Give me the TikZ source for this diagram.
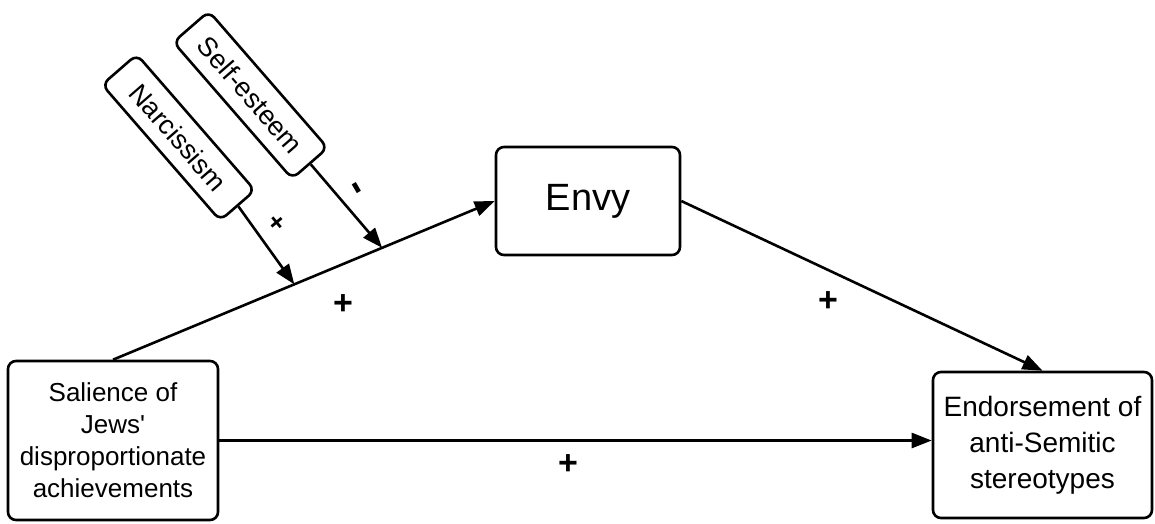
\documentclass[tikz,border=0pt]{standalone}
\usepackage{fontspec}
\setmainfont{Liberation Sans}
\newfontfamily\plainlib{Liberation Sans}
\usetikzlibrary{arrows.meta,calc}
\begin{document}
\begin{tikzpicture}[x=1pt,y=-1pt,
  box/.style={draw,line width=2.6pt,rounded corners=8pt,align=center,inner sep=2pt},
  arr/.style={line width=2.6pt,-{Triangle[length=20pt,width=15pt]}},
  sign/.style={font=\fontsize{34}{34}\selectfont\bfseries,inner sep=0pt}]
\useasboundingbox (0,0) rectangle (1155,523);
\node[box,minimum width=210pt,minimum height=159pt,font=\fontsize{26}{32}\selectfont] (s) at (113,440.5)
  {Salience of\\{\plainlib Jews'}\\disproportionate\\achievements};
\node[box,minimum width=184pt,minimum height=108pt,font=\fontsize{38}{46}\selectfont] (e) at (588,201) {Envy};
\node[box,minimum width=219pt,minimum height=146pt,font=\fontsize{28}{36}\selectfont] (d) at (1042.5,445)
  {Endorsement of\\anti-Semitic\\stereotypes};
\node[box,rotate=-49,minimum width=180pt,minimum height=46pt,font=\fontsize{27}{30}\selectfont] (n) at (178.5,137.5) {Narcissism};
\node[box,rotate=-49,minimum width=181pt,minimum height=47pt,font=\fontsize{27}{30}\selectfont] (se) at (250.5,95) {Self-esteem};
\coordinate (na) at ($(s.north)!0.475!(e.west)$);
\coordinate (sa) at ($(s.north)!0.705!(e.west)$);
\draw[arr] (s.north) -- (e.west);
\draw[arr] (e.east) -- (d.north);
\draw[arr] (s.east) -- (s.east -| d.west);
\draw[arr] (n.east) -- (na);
\draw[arr] (se.east) -- (sa);
\node[sign] (p1) at (343,305) {+};
\node[sign] (p2) at (828,302) {+};
\node[sign] (p3) at (568,465) {+};
\node[sign,rotate=-50,font=\fontsize{26}{26}\selectfont\bfseries] (p4) at (276,223) {+};
\node[sign,rotate=-60,font=\fontsize{40}{40}\selectfont\bfseries] (m1) at (353,190) {-};
\end{tikzpicture}
\end{document}
